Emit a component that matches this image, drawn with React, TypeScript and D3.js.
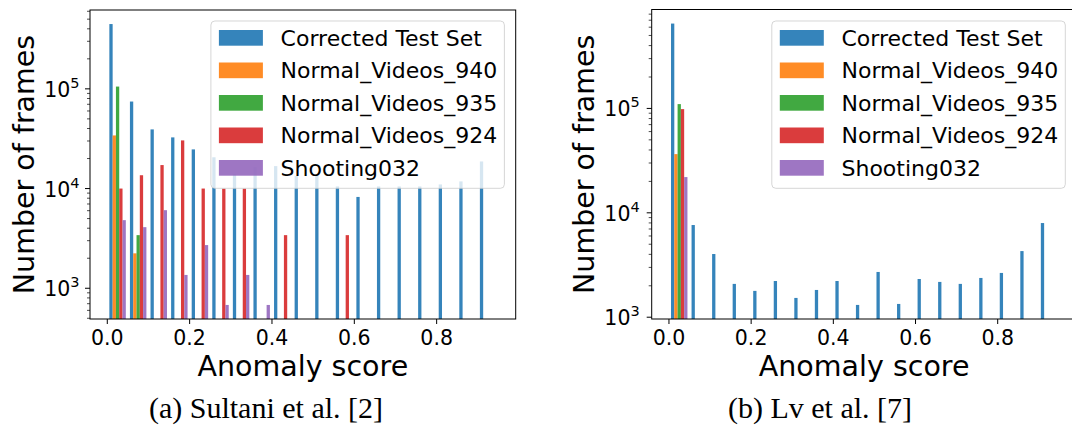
import { useEffect, useRef } from "react";
import * as d3 from "d3";

// histogram bins (anomaly score)
const binEdges = [0, 0.05, 0.1, 0.15, 0.2, 0.25, 0.3, 0.35, 0.4, 0.45, 0.5, 0.55, 0.6, 0.65, 0.7, 0.75, 0.8, 0.85, 0.9, 0.95];
const seriesNames = ["Corrected Test Set", "Normal_Videos_940", "Normal_Videos_935", "Normal_Videos_924", "Shooting032"];
const seriesColors = ["#1f77b4", "#ff7f0e", "#2ca02c", "#d62728", "#9467bd"];
const xTicks = [0, 0.2, 0.4, 0.6, 0.8];
const yTickExps = [3, 4, 5];

// (a) Sultani et al.
const sultaniCorrected = [446700, 74600, 39200, 32600, 24700, 20600, 14000, 16400, 16800, 13400, 13400, 10500, 8240, 10500, 10500, 10500, 11000, 11800, 18700];
const sultani940 = [34100, 2240, 0, 0, 0, 0, 0, 0, 0, 0, 0, 0, 0, 0, 0, 0, 0, 0, 0];
const sultani935 = [105400, 3410, 0, 0, 0, 0, 0, 0, 0, 0, 0, 0, 0, 0, 0, 0, 0, 0, 0];
const sultani924 = [10000, 13600, 17200, 30400, 10000, 10000, 10000, 0, 3410, 0, 0, 3410, 0, 0, 0, 0, 0, 0, 0];
const sultaniShooting = [4820, 4100, 6070, 1360, 2710, 680, 1360, 680, 0, 0, 0, 0, 0, 0, 0, 0, 0, 0, 0];

// (b) Lv et al.
const lvCorrected = [650000, 7640, 4030, 2085, 1787, 2222, 1530, 1824, 2222, 1311, 2713, 1340, 2323, 2178, 2085, 2377, 2655, 4300, 7980];
const lv940 = [36500, 0, 0, 0, 0, 0, 0, 0, 0, 0, 0, 0, 0, 0, 0, 0, 0, 0, 0];
const lv935 = [110000, 0, 0, 0, 0, 0, 0, 0, 0, 0, 0, 0, 0, 0, 0, 0, 0, 0, 0];
const lv924 = [98500, 0, 0, 0, 0, 0, 0, 0, 0, 0, 0, 0, 0, 0, 0, 0, 0, 0, 0];
const lvShooting = [22000, 0, 0, 0, 0, 0, 0, 0, 0, 0, 0, 0, 0, 0, 0, 0, 0, 0, 0];

const FONT = "DejaVu Sans";

const panels = [
    {
        id: "a",
        series: [sultaniCorrected, sultani940, sultani935, sultani924, sultaniShooting],
        left: 90, right: 515.7, top: 10, bottom: 319,
        ylabelX: 33.5, ytickGap: 10.5,
        caption: "(a) Sultani et al. [2]", captionX: 266,
    },
    {
        id: "b",
        series: [lvCorrected, lv940, lv935, lv924, lvShooting],
        left: 651.7, right: 1076.6, top: 9.5, bottom: 319,
        ylabelX: 594, ytickGap: 12,
        caption: "(b) Lv et al. [7]", captionX: 820,
    },
];

function drawPanel(svg: any, p: any) {
    const bw = binEdges[1] - binEdges[0];
    const nb = binEdges.length - 1;
    const n = p.series.length;
    const dr = 0.8;
    const w = dr * bw / n;
    const off = 0.5 * bw - 0.5 * dr * bw * (1 - 1 / n);

    const xlo = binEdges[0] + off - w / 2;
    const xhi = binEdges[nb - 1] + off + (n - 1) * w + w / 2;
    const xpad = 0.05 * (xhi - xlo);
    const x = d3.scaleLinear().domain([xlo - xpad, xhi + xpad]).range([p.left, p.right]);

    const vals = p.series.flat().filter((v: number) => v > 0);
    const lo = Math.log10(d3.min(vals) as number);
    const hi = Math.log10(d3.max(vals) as number);
    const ypad = 0.05 * (hi - lo);
    const y = d3.scaleLog().domain([10 ** (lo - ypad), 10 ** (hi + ypad)]).range([p.bottom, p.top]);

    const g = svg.append("g");

    g.append("clipPath").attr("id", "clip-" + p.id)
        .append("rect")
        .attr("x", p.left).attr("y", p.top)
        .attr("width", p.right - p.left).attr("height", p.bottom - p.top);

    const barsG = g.append("g").attr("clip-path", `url(#clip-${p.id})`);

    p.series.forEach((s: number[], i: number) => {
        barsG.append("g")
            .selectAll("rect")
            .data(s.map((v, b) => ({ v, b })).filter((d) => d.v > 0))
            .join("rect")
            .attr("x", (d: any) => x(binEdges[d.b] + off + i * w - w / 2))
            .attr("width", x(w) - x(0))
            .attr("y", (d: any) => y(d.v))
            .attr("height", (d: any) => p.bottom - y(d.v))
            .attr("fill", seriesColors[i])
            .attr("fill-opacity", 0.9);
    });

    // spines
    g.append("rect")
        .attr("x", p.left).attr("y", p.top)
        .attr("width", p.right - p.left).attr("height", p.bottom - p.top)
        .attr("fill", "none").attr("stroke", "#000").attr("stroke-width", 1);

    // x ticks
    const xt = g.append("g");
    xTicks.forEach((t) => {
        xt.append("line")
            .attr("x1", x(t)).attr("x2", x(t))
            .attr("y1", p.bottom).attr("y2", p.bottom + 5)
            .attr("stroke", "#000");
        xt.append("text")
            .attr("x", x(t)).attr("y", p.bottom + 26)
            .attr("text-anchor", "middle")
            .attr("font-family", FONT).attr("font-size", 20.5)
            .text(d3.format(".1f")(t));
    });

    // y ticks (log)
    const yt = g.append("g");
    const [d0, d1] = y.domain();
    for (let e = Math.floor(Math.log10(d0)); e <= Math.ceil(Math.log10(d1)); e++) {
        for (let m = 1; m <= 9; m++) {
            const v = m * 10 ** e;
            if (v < d0 || v > d1) continue;
            const major = m === 1;
            yt.append("line")
                .attr("x1", p.left).attr("x2", p.left - (major ? 5 : 3))
                .attr("y1", y(v)).attr("y2", y(v))
                .attr("stroke", "#000").attr("stroke-width", major ? 1 : 0.7);
        }
    }
    yTickExps.forEach((e) => {
        const v = 10 ** e;
        if (v < d0 || v > d1) return;
        const t = yt.append("text")
            .attr("x", p.left - p.ytickGap).attr("y", y(v) + 8)
            .attr("text-anchor", "end")
            .attr("font-family", FONT).attr("font-size", 20.5);
        t.append("tspan").text("10");
        t.append("tspan").attr("dy", -9).attr("font-size", 14.5).text(String(e));
    });

    // axis labels
    g.append("text")
        .attr("x", (p.left + p.right) / 2).attr("y", 376)
        .attr("text-anchor", "middle")
        .attr("font-family", FONT).attr("font-size", 28.5)
        .text("Anomaly score");
    g.append("text")
        .attr("transform", `translate(${p.ylabelX},${(p.top + p.bottom) / 2}) rotate(-90)`)
        .attr("text-anchor", "middle")
        .attr("font-family", FONT).attr("font-size", 28.5)
        .text("Number of frames");

    // legend
    const lw = 293.5;
    const lx = p.right - 11.3 - lw;
    const leg = g.append("g");
    leg.append("rect")
        .attr("x", lx).attr("y", 21)
        .attr("width", lw).attr("height", 167.3)
        .attr("rx", 4)
        .attr("fill", "#fff").attr("fill-opacity", 0.8)
        .attr("stroke", "#cccccc").attr("stroke-opacity", 0.8);
    seriesNames.forEach((name, i) => {
        const cy = 37.8 + 32.5 * i;
        leg.append("rect")
            .attr("x", lx + 8).attr("y", cy - 7.8)
            .attr("width", 44).attr("height", 15.7)
            .attr("fill", seriesColors[i]).attr("fill-opacity", 0.9);
        leg.append("text")
            .attr("x", lx + 69.7).attr("y", cy + 8)
            .attr("font-family", FONT).attr("font-size", 22)
            .text(name);
    });

    // caption
    g.append("text")
        .attr("x", p.captionX).attr("y", 418)
        .attr("text-anchor", "middle")
        .attr("font-family", "Liberation Serif").attr("font-size", 30)
        .text(p.caption);
}

const App = () => {
    const svgRef: any = useRef<SVGSVGElement>(null);

    useEffect(() => {
        const svg = d3.select(svgRef.current);
        svg.selectAll("*").remove();
        panels.forEach((p) => drawPanel(svg, p));
    }, []);

    return (
        <svg
            ref={svgRef}
            width={1072}
            height={444}
            style={{ position: "absolute", left: 0, top: 0, background: "#fff" }}
        />
    );
};

export default App;
